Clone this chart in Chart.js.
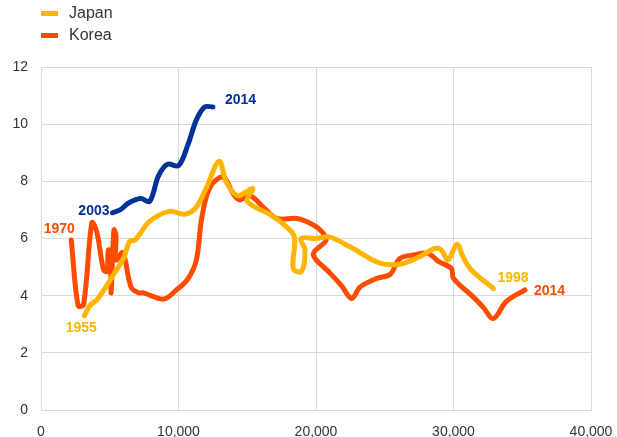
<!DOCTYPE html>
<html>
<head>
<meta charset="utf-8">
<script src="https://cdn.jsdelivr.net/npm/chart.js@4/dist/chart.umd.min.js"></script>
<style>
    html, body { margin: 0; padding: 0; background: #fff; }
    #wrap { position: relative; width: 617px; height: 437px; }
    #legend { position: absolute; left: 41px; top: 2px; font: 16px "Liberation Sans", Arial, sans-serif; color: #333; }
    #legend div { height: 22px; line-height: 22px; white-space: nowrap; }
    #legend span { display: inline-block; width: 17px; height: 5px; margin-right: 11px; vertical-align: middle; }
</style>
</head>
<body>
<div id="wrap">
    <canvas id="chart" width="617" height="437"></canvas>
    <div id="legend"></div>
</div>
<script>
// Japan 1955-1998 (x: GDP per capita, y: value)
const japanX = [3150, 3550, 4050, 4650, 5350, 6000, 6450, 6850, 7900, 9350, 10450, 11300, 12050, 12950, 13500, 14300, 15400, 15000, 16800, 18100, 18450, 18350, 18950, 19200, 18900, 20000, 21000, 22500, 24600, 26100, 27500, 28600, 29100, 29600, 30250, 30700, 31300, 32900];
const japanY = [3.3, 3.65, 3.85, 4.25, 4.8, 5.3, 5.9, 5.95, 6.6, 6.95, 6.85, 7.1, 7.8, 8.7, 7.95, 7.5, 7.75, 7.3, 6.8, 6.3, 6.0, 4.95, 4.85, 5.6, 6.0, 6.0, 6.05, 5.7, 5.15, 5.1, 5.35, 5.65, 5.6, 5.25, 5.8, 5.35, 4.9, 4.25];

// Korea 1970-2014
const koreaX = [2200, 2700, 3100, 3700, 4050, 4550, 4800, 4900, 5050, 5100, 5300, 5450, 5450, 5950, 6550, 7100, 7450, 8900, 9850, 10700, 11300, 11700, 12300, 13250, 14000, 14450, 15200, 16150, 17150, 18600, 19500, 20300, 20750, 19800, 21000, 21850, 22600, 23200, 24400, 25400, 26100, 27100, 28150, 28900, 29850, 30000, 31450, 32150, 32900, 33850, 35200];
const koreaY = [5.95, 3.65, 3.7, 6.55, 6.25, 4.9, 4.85, 5.6, 5.55, 4.1, 6.3, 6.1, 5.25, 5.5, 4.3, 4.1, 4.1, 3.88, 4.2, 4.6, 5.25, 6.75, 7.8, 8.15, 7.55, 7.35, 7.5, 7.1, 6.7, 6.7, 6.55, 6.3, 5.95, 5.45, 4.8, 4.35, 3.9, 4.3, 4.6, 4.75, 5.3, 5.42, 5.48, 5.2, 4.95, 4.6, 3.95, 3.6, 3.2, 3.8, 4.2];

// China 2003-2014 (no legend entry)
const chinaX = [5200, 5750, 6400, 7250, 7900, 8550, 9200, 10000, 10700, 11300, 11900, 12500];
const chinaY = [6.9, 7.0, 7.25, 7.4, 7.3, 8.2, 8.6, 8.55, 9.3, 10.15, 10.6, 10.6];

const xTicks = [0, 10000, 20000, 30000, 40000];
const yTicks = [0, 2, 4, 6, 8, 10, 12];

// start/end year labels: [dataset index, point ('first'|'last'), text]
const yearLabels = [
    [0, 'first', '1955'],
    [0, 'last', '1998'],
    [1, 'first', '1970'],
    [1, 'last', '2014'],
    [2, 'first', '2003'],
    [2, 'last', '2014']
];

const colors = ['#FFB400', '#FF4B00', '#003299'];
const labelOffsets = {
    '0first': [-3, 12, 'center'],
    '0last': [4, -10, 'left'],
    '1first': [-12, -11, 'center'],
    '1last': [9, 1, 'left'],
    '2first': [-3, -2, 'right'],
    '2last': [12, -7, 'left']
};

const toPoints = (xs, ys) => xs.map((x, i) => ({ x: x, y: ys[i] }));

const makeSet = (label, xs, ys, color) => ({
    label: label,
    data: toPoints(xs, ys),
    borderColor: color,
    backgroundColor: color,
    borderWidth: 5,
    pointRadius: 0,
    tension: 0.35,
    borderCapStyle: 'round',
    borderJoinStyle: 'round',
    fill: false
});

const yearLabelPlugin = {
    id: 'yearLabels',
    afterDatasetsDraw(chart) {
        const ctx = chart.ctx;
        ctx.save();
        ctx.font = 'bold 14px "Liberation Sans", Arial, sans-serif';
        ctx.textBaseline = 'middle';
        yearLabels.forEach(([di, which, text]) => {
            const meta = chart.getDatasetMeta(di);
            const pt = which === 'first' ? meta.data[0] : meta.data[meta.data.length - 1];
            const off = labelOffsets[di + which];
            ctx.fillStyle = colors[di];
            ctx.textAlign = off[2];
            ctx.fillText(text, pt.x + off[0], pt.y + off[1]);
        });
        ctx.restore();
    }
};

const chart = new Chart(document.getElementById('chart'), {
    type: 'line',
    data: {
        datasets: [
            makeSet('Japan', japanX, japanY, colors[0]),
            makeSet('Korea', koreaX, koreaY, colors[1]),
            makeSet('China', chinaX, chinaY, colors[2])
        ]
    },
    options: {
        responsive: false,
        animation: false,
        events: [],
        layout: { padding: { top: 67, right: 0, left: 0, bottom: 0 } },
        plugins: { legend: { display: false }, tooltip: { enabled: false } },
        scales: {
            x: {
                type: 'linear',
                min: 0,
                max: 40000,
                afterBuildTicks: s => { s.ticks = xTicks.map(v => ({ value: v })); },
                afterFit: s => { s.height = 27; s.paddingRight = 26; s.paddingLeft = 0; },
                ticks: {
                    padding: 14,
                    maxRotation: 0,
                    color: '#333',
                    font: { size: 14, family: '"Liberation Sans", Arial, sans-serif' },
                    callback: v => v.toLocaleString('en-US')
                },
                grid: { color: '#d9d9d9', drawTicks: false },
                border: { color: '#d9d9d9' }
            },
            y: {
                min: 0,
                max: 12,
                afterBuildTicks: s => { s.ticks = yTicks.map(v => ({ value: v })); },
                afterFit: s => { s.width = 41; },
                ticks: {
                    padding: 13,
                    color: '#333',
                    font: { size: 14, family: '"Liberation Sans", Arial, sans-serif' }
                },
                grid: { color: '#d9d9d9', drawTicks: false },
                border: { color: '#d9d9d9' }
            }
        }
    },
    plugins: [yearLabelPlugin]
});

// legend, Japan and Korea only
document.getElementById('legend').innerHTML = chart.data.datasets.slice(0, 2)
    .map(ds => `<div><span style="background:${ds.borderColor}"></span>${ds.label}</div>`)
    .join('');
</script>
</body>
</html>
